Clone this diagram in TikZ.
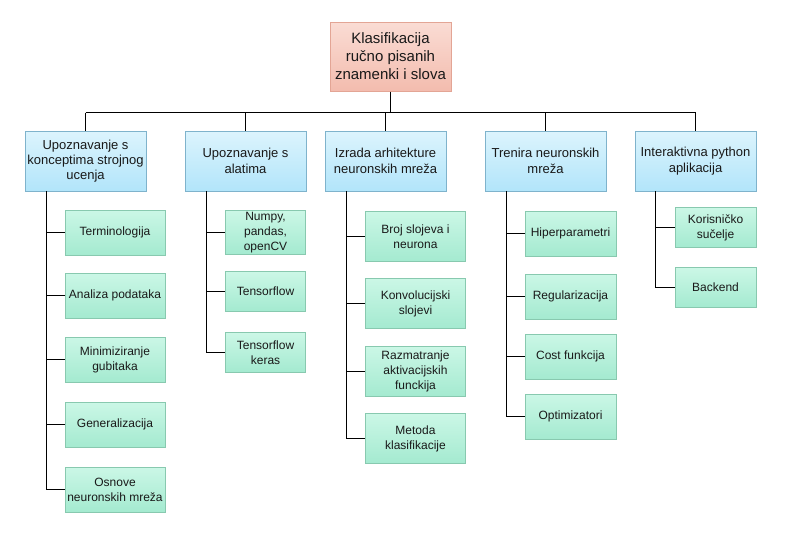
\documentclass[tikz,border=0pt]{standalone}
\usepackage{fontspec}
\setmainfont{Liberation Sans}
\definecolor{rootline}{HTML}{E3A595}
\definecolor{roottop}{HTML}{FADCD4}
\definecolor{rootbot}{HTML}{F3BCAE}
\definecolor{catline}{HTML}{7FB3CC}
\definecolor{cattop}{HTML}{DCF4FD}
\definecolor{catbot}{HTML}{B2E5FA}
\definecolor{leafline}{HTML}{88C9AF}
\definecolor{leaftop}{HTML}{CBF7E6}
\definecolor{leafbot}{HTML}{A4EAD0}
\begin{document}
\begin{tikzpicture}[x=0.75pt,y=-0.75pt,
  box/.style={draw, rectangle, inner sep=1pt, align=center, line width=0.75pt, text=black!90},
  rootbox/.style={box, draw=rootline, top color=roottop, bottom color=rootbot,
    minimum width=90.75pt, minimum height=51.75pt, font=\fontsize{11.25pt}{13.5pt}\selectfont},
  catbox/.style={box, draw=catline, top color=cattop, bottom color=catbot,
    minimum width=90.75pt, minimum height=45pt, font=\fontsize{9.75pt}{11.5pt}\selectfont},
  leafbox/.style={box, draw=leafline, top color=leaftop, bottom color=leafbot,
    font=\fontsize{9pt}{11.25pt}\selectfont},
  lfa/.style={leafbox, minimum width=75pt, minimum height=33.75pt},
  lfb/.style={leafbox, minimum width=60pt, minimum height=30pt},
  lfc/.style={leafbox, minimum width=75pt, minimum height=37.5pt},
  lfd/.style={leafbox, minimum width=68.25pt, minimum height=33.75pt},
  lfe/.style={leafbox, minimum width=60.75pt, minimum height=30pt},
  link/.style={draw=black, line width=0.8pt}
]
\useasboundingbox (0,0) rectangle (792,540);

% top of the tree
\node[rootbox] (root) at (390.5,56.5) {Klasifikacija\\ručno pisanih\\znamenki i slova};

% second level
\node[catbox] (c1) at (85.5,161) {Upoznavanje s\\konceptima strojnog\\ucenja};
\node[catbox] (c2) at (245.5,161) {Upoznavanje s\\alatima};
\node[catbox] (c3) at (385.5,161) {Izrada arhitekture\\neuronskih mreža};
\node[catbox] (c4) at (545.5,161) {Trenira neuronskih\\mreža};
\node[catbox] (c5) at (695.5,161) {Interaktivna python\\aplikacija};

% leaves, column 1
\node[lfa] (a1) at (115,232.5) {Terminologija};
\node[lfa] (a2) at (115,295.5) {Analiza podataka};
\node[lfa] (a3) at (115,359.5) {Minimiziranje\\gubitaka};
\node[lfa] (a4) at (115,424.5) {Generalizacija};
\node[lfa] (a5) at (115,489.5) {Osnove\\neuronskih mreža};

% leaves, column 2
\node[lfb] (b1) at (265.5,232.5) {Numpy,\\pandas,\\openCV};
\node[lfb] (b2) at (265.5,291.5) {Tensorflow};
\node[lfb] (b3) at (265.5,352.5) {Tensorflow\\keras};

% leaves, column 3
\node[lfc] (d1) at (415.5,236.5) {Broj slojeva i\\neurona};
\node[lfc] (d2) at (415.5,303.5) {Konvolucijski\\slojevi};
\node[lfc] (d3) at (415.5,371.5) {Razmatranje\\aktivacijskih\\funckija};
\node[lfc] (d4) at (415.5,438.5) {Metoda\\klasifikacije};

% leaves, column 4
\node[lfd] (e1) at (570.5,233.5) {Hiperparametri};
\node[lfd] (e2) at (570.5,296.5) {Regularizacija};
\node[lfd] (e3) at (570.5,356.5) {Cost funkcija};
\node[lfd] (e4) at (570.5,416.5) {Optimizatori};

% leaves, column 5
\node[lfe] (f1) at (715.5,227.5) {Korisničko\\sučelje};
\node[lfe] (f2) at (715.5,287.5) {Backend};

% bus from the top box to the second level
\coordinate (bus) at (390.5,112.5);
\draw[link] (root.south) -- (bus);
\draw[link] (c1.north |- bus) -- (c5.north |- bus);
\foreach \c in {c1,c2,c3,c4,c5} \draw[link] (\c.north |- bus) -- (\c.north);

% trunks below each category, each drawn once, then the short branches
\coordinate (t1) at (46.5,191);
\coordinate (t2) at (206.5,191);
\coordinate (t3) at (346.5,191);
\coordinate (t4) at (506.5,191);
\coordinate (t5) at (655.5,191);
\draw[link] (t1) -- (t1 |- a5.west);
\draw[link] (t2) -- (t2 |- b3.west);
\draw[link] (t3) -- (t3 |- d4.west);
\draw[link] (t4) -- (t4 |- e4.west);
\draw[link] (t5) -- (t5 |- f2.west);
\foreach \l in {a1,a2,a3,a4,a5} \draw[link] (t1 |- \l.west) -- (\l.west);
\foreach \l in {b1,b2,b3} \draw[link] (t2 |- \l.west) -- (\l.west);
\foreach \l in {d1,d2,d3,d4} \draw[link] (t3 |- \l.west) -- (\l.west);
\foreach \l in {e1,e2,e3,e4} \draw[link] (t4 |- \l.west) -- (\l.west);
\foreach \l in {f1,f2} \draw[link] (t5 |- \l.west) -- (\l.west);
\end{tikzpicture}
\end{document}
